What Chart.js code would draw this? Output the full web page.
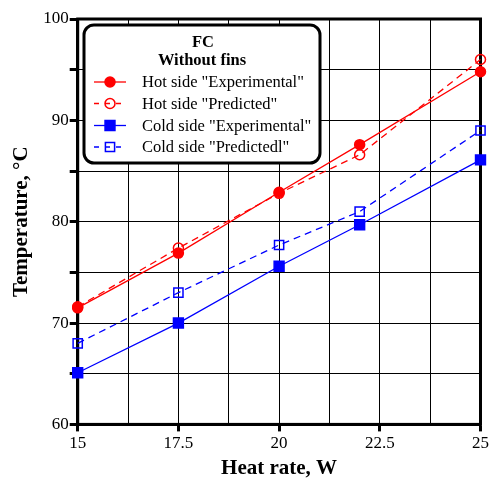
<!DOCTYPE html>
<html>
<head>
<meta charset="utf-8">
<script src="https://cdn.jsdelivr.net/npm/chart.js@4.4.0/dist/chart.umd.min.js"></script>
<style>
  html, body { margin: 0; padding: 0; background: #fff; }
  #wrap { width: 491px; height: 481px; }
</style>
</head>
<body>
<div id="wrap"><canvas id="grafiek" width="491" height="481"></canvas></div>
<script>
// Heat rate (W) and measured / predicted side temperatures (°C)
const heatRate = [15, 17.5, 20, 22, 25];
const hotExperimental = [71.5, 76.9, 82.9, 87.6, 94.8];
const hotPredicted = [71.6, 77.4, 82.8, 86.6, 96.0];
const coldExperimental = [65.1, 70.0, 75.6, 79.7, 86.1];
const coldPredicted = [68.0, 73.0, 77.7, 81.0, 89.0];

const xTicks = [15, 17.5, 20, 22.5, 25];
const yTicks = [60, 70, 80, 90, 100];
const legendTitle = ['FC', 'Without fins'];

const FONT = '"Liberation Serif", "Times New Roman", serif';
const RED = '#ff0000';
const BLUE = '#0000ff';

function punten(ys) {
    return heatRate.map((x, i) => ({ x: x, y: ys[i] }));
}

function reeks(label, ys, kleur, stijl, gevuld, gestreept, straal) {
    return {
        label: label,
        data: punten(ys),
        borderColor: kleur,
        backgroundColor: kleur,
        borderWidth: 1.3,
        borderDash: gestreept ? [7, 5] : [],
        pointStyle: stijl,
        pointRadius: straal,
        pointBorderWidth: 1.5,
        pointBorderColor: kleur,
        pointBackgroundColor: gevuld ? kleur : 'rgba(0,0,0,0)',
        tension: 0,
        clip: 12
    };
}

// Rand rond het plotgebied (boven en rechts ontbreken standaard)
const kaderPlugin = {
    id: 'kader',
    beforeDatasetsDraw(chart) {
        const { ctx, chartArea: a } = chart;
        ctx.save();
        ctx.strokeStyle = '#000';
        ctx.lineWidth = 3;
        ctx.strokeRect(a.left, a.top, a.right - a.left, a.bottom - a.top);
        ctx.restore();
    }
};

// Legende in een afgeronde box binnen het plotgebied
const legendePlugin = {
    id: 'legendeBox',
    afterDatasetsDraw(chart) {
        const ctx = chart.ctx;
        const bx = 84, by = 25, bw = 236, bh = 138, r = 10;
        ctx.save();
        ctx.beginPath();
        ctx.roundRect(bx, by, bw, bh, r);
        ctx.fillStyle = '#fff';
        ctx.fill();
        ctx.lineWidth = 3;
        ctx.strokeStyle = '#000';
        ctx.stroke();

        ctx.fillStyle = '#000';
        ctx.textAlign = 'center';
        ctx.textBaseline = 'middle';
        ctx.font = 'bold 16.5px ' + FONT;
        ctx.fillText(legendTitle[0], 203, 43);
        ctx.fillText(legendTitle[1], 202, 61);

        ctx.textAlign = 'left';
        ctx.font = '16.5px ' + FONT;
        const rijen = [82, 103.5, 125.5, 147];
        chart.data.datasets.forEach((ds, i) => {
            const y = rijen[i];
            ctx.save();
            ctx.strokeStyle = ds.borderColor;
            ctx.lineWidth = ds.borderWidth;
            ctx.setLineDash(ds.borderDash.length ? [5, 6] : []);
            ctx.beginPath();
            ctx.moveTo(94, y);
            ctx.lineTo(126, y);
            ctx.stroke();
            ctx.setLineDash([]);
            ctx.fillStyle = ds.pointBackgroundColor;
            ctx.strokeStyle = ds.pointBorderColor;
            ctx.lineWidth = ds.pointBorderWidth;
            Chart.helpers.drawPoint(ctx, {
                pointStyle: ds.pointStyle,
                radius: ds.pointRadius,
                borderWidth: ds.pointBorderWidth,
                rotation: 0
            }, 110, y);
            ctx.restore();
            ctx.fillStyle = '#000';
            ctx.fillText(ds.label, 142, y + 1);
        });
        ctx.restore();
    }
};

new Chart(document.getElementById('grafiek'), {
    type: 'line',
    data: {
        datasets: [
            reeks('Hot side "Experimental"', hotExperimental, RED, 'circle', true, false, 5),
            reeks('Hot side "Predicted"', hotPredicted, RED, 'circle', false, true, 5),
            reeks('Cold side "Experimental"', coldExperimental, BLUE, 'rect', true, false, 7),
            reeks('Cold side "Predictedl"', coldPredicted, BLUE, 'rect', false, true, 6.5)
        ]
    },
    options: {
        responsive: false,
        animation: false,
        layout: { padding: { top: 19, right: 1, left: 9, bottom: 0 } },
        plugins: {
            legend: { display: false },
            tooltip: { enabled: false }
        },
        scales: {
            x: {
                type: 'linear',
                min: 15,
                max: 25,
                ticks: {
                    stepSize: 1.25,
                    color: '#000',
                    font: { family: FONT, size: 17 },
                    padding: 2,
                    maxRotation: 0,
                    autoSkip: false,
                    callback: v => xTicks.includes(v) ? String(v) : ''
                },
                grid: {
                    color: '#000',
                    lineWidth: 1,
                    tickLength: 7,
                    tickColor: c => xTicks.includes(c.tick.value) ? '#000' : 'rgba(0,0,0,0)',
                    tickWidth: 3
                },
                border: { color: '#000', width: 3 },
                title: {
                    display: true,
                    text: 'Heat rate, W',
                    color: '#000',
                    font: { family: FONT, size: 21, weight: 'bold' },
                    padding: { top: 0, bottom: 0 }
                }
            },
            y: {
                min: 60,
                max: 100,
                ticks: {
                    stepSize: 5,
                    color: '#000',
                    font: { family: FONT, size: 17 },
                    padding: 1,
                    autoSkip: false,
                    callback: v => yTicks.includes(v) ? String(v) : ''
                },
                grid: {
                    color: '#000',
                    lineWidth: 1,
                    tickLength: 8,
                    tickColor: '#000',
                    tickWidth: 3
                },
                border: { color: '#000', width: 3 },
                title: {
                    display: true,
                    text: 'Temperature, °C',
                    color: '#000',
                    font: { family: FONT, size: 21, weight: 'bold' },
                    padding: { top: 0, bottom: 8 }
                }
            }
        }
    },
    plugins: [kaderPlugin, legendePlugin]
});
</script>
</body>
</html>
